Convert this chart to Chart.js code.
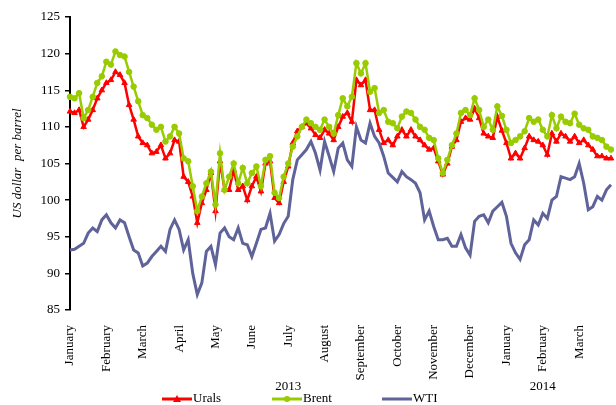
<!DOCTYPE html>
<html>
<head>
<meta charset="utf-8">
<script src="https://cdn.jsdelivr.net/npm/chart.js@4.4.1/dist/chart.umd.min.js"></script>
<style>
  html, body { margin: 0; padding: 0; background: #fff; }
</style>
</head>
<body>
<canvas id="oilChart" width="616" height="405"></canvas>
<script>
// luni pe axa x (ian 2013 - mar 2014), 8 puncte pe luna
const monthNames = ['January', 'February', 'March', 'April', 'May', 'June', 'July', 'August',
    'September', 'October', 'November', 'December', 'January', 'February', 'March'];
const years = ['2013', '2014'];
const monthsPerYear = [12, 3];
const pointsPerMonth = 8;

const urals = [
    112.1, 111.9, 112.3, 110.0, 111.0, 112.3, 113.9, 115.0,
    116.0, 116.4, 117.5, 117.1, 116.0, 113.0, 111.0, 108.7,
    107.8, 107.5, 106.4, 106.6, 107.5, 105.7, 106.4, 108.2,
    108.0, 103.2, 102.5, 100.5, 96.9, 99.6, 101.4, 103.7,
    98.5, 105.3, 101.4, 101.4, 104.1, 101.4, 101.9, 100.0,
    101.9, 103.2, 101.2, 105.0, 105.3, 100.3, 99.6, 102.5,
    104.6, 107.8, 109.4, 110.0, 110.5, 109.8, 108.9, 108.5,
    109.6, 109.1, 108.2, 110.0, 111.4, 111.9, 110.7, 116.4,
    115.7, 116.4, 112.3, 112.3, 109.6, 107.8, 108.2, 107.5,
    108.7, 109.6, 108.7, 109.6, 108.7, 108.2, 107.5, 106.9,
    107.1, 105.3, 103.5, 105.0, 107.3, 108.2, 110.7, 111.2,
    111.0, 112.5, 111.2, 109.1, 108.7, 108.5, 111.4, 109.5,
    107.8, 105.7, 106.4, 105.7, 107.1, 108.7, 108.2, 108.0,
    107.5, 106.2, 109.1, 108.0, 109.1, 108.7, 108.0, 108.7,
    107.8, 108.2, 107.5, 106.9, 106.0, 106.0, 105.7, 105.7
];
const brent = [
    114.1, 113.9, 114.6, 111.2, 112.3, 114.1, 116.0, 116.9,
    118.9, 118.5, 120.3, 119.8, 119.6, 117.5, 115.5, 113.5,
    111.6, 111.2, 110.3, 109.6, 110.0, 108.0, 108.7, 110.0,
    109.1, 105.7, 105.3, 101.9, 98.5, 100.5, 102.3, 103.9,
    99.4, 106.4, 101.4, 103.2, 105.0, 102.3, 104.4, 102.3,
    103.7, 104.6, 101.9, 105.5, 106.0, 101.0, 100.3, 103.2,
    105.0, 107.3, 108.7, 110.0, 111.0, 110.5, 110.0, 109.6,
    111.0, 110.0, 109.1, 111.6, 113.9, 112.8, 114.1, 118.7,
    117.3, 118.7, 114.8, 115.3, 111.9, 112.3, 110.7, 110.5,
    109.8, 111.4, 112.1, 111.9, 111.0, 110.0, 109.6, 108.5,
    108.2, 105.7, 103.7, 105.5, 107.5, 109.1, 111.9, 112.3,
    111.6, 113.9, 112.3, 110.0, 111.0, 109.6, 112.8, 111.5,
    109.6, 107.8, 108.2, 108.7, 109.4, 111.2, 110.7, 111.0,
    109.6, 108.7, 111.6, 109.8, 111.4, 110.7, 110.5, 111.8,
    110.3, 109.8, 109.6, 108.7, 108.5, 108.2, 107.3, 106.9
];
const wti = [
    93.2, 93.3, 93.7, 94.1, 95.5, 96.2, 95.7, 97.3,
    98.0, 96.9, 96.2, 97.3, 96.9, 95.0, 93.2, 92.8,
    91.0, 91.4, 92.3, 93.0, 93.7, 93.0, 96.0, 97.3,
    96.0, 93.2, 94.6, 90.0, 87.1, 88.7, 93.0, 93.7,
    91.2, 95.5, 96.2, 95.0, 94.6, 96.2, 94.1, 93.9,
    92.3, 94.1, 96.0, 96.2, 98.2, 94.4, 95.3, 96.8,
    97.8, 102.8, 105.5, 106.2, 106.9, 108.0, 106.4, 104.1,
    108.0, 106.0, 103.9, 107.1, 107.8, 105.5, 104.6, 110.0,
    108.2, 107.8, 110.5, 108.7, 107.8, 106.0, 103.7, 103.1,
    102.5, 103.9, 103.2, 102.8, 102.3, 101.0, 97.3, 98.5,
    96.4, 94.6, 94.6, 94.8, 93.7, 93.7, 95.3, 93.5,
    92.5, 97.1, 97.8, 98.0, 96.9, 98.5, 99.1, 99.7,
    97.8, 94.1, 92.8, 91.9, 93.9, 94.6, 97.3, 96.6,
    98.2, 97.5, 100.0, 100.5, 103.2, 103.0, 102.8, 103.2,
    105.0, 102.3, 98.7, 99.1, 100.5, 100.0, 101.4, 102.1
];

const labels = urals.map((_, i) => i % pointsPerMonth === 0 ? monthNames[i / pointsPerMonth] : '');

const serif = '"Liberation Serif", "Times New Roman", serif';

// anii sub luni + legenda cu linie si marker
const extraLabels = {
    id: 'extraLabels',
    afterDraw(chart) {
        const c = chart.ctx;
        const xs = chart.scales.x;
        c.save();
        c.fillStyle = '#000';
        c.font = '13px ' + serif;
        c.textAlign = 'center';
        c.textBaseline = 'middle';
        let start = 0;
        years.forEach((y, i) => {
            const mid = start + Math.floor(monthsPerYear[i] / 2);
            c.fillText(y, xs.getPixelForValue(mid * pointsPerMonth), 387);
            start += monthsPerYear[i];
        });

        let x = 162;
        const ly = 399;
        chart.data.datasets.forEach(ds => {
            c.strokeStyle = ds.borderColor;
            c.lineWidth = 3;
            c.beginPath();
            c.moveTo(x, ly);
            c.lineTo(x + 30, ly);
            c.stroke();
            c.fillStyle = ds.borderColor;
            if (ds.pointStyle === 'triangle') {
                c.beginPath();
                c.moveTo(x + 15, ly - 4);
                c.lineTo(x + 19, ly + 3);
                c.lineTo(x + 11, ly + 3);
                c.closePath();
                c.fill();
            } else if (ds.pointRadius > 0) {
                c.beginPath();
                c.arc(x + 15, ly, 3, 0, Math.PI * 2);
                c.fill();
            }
            c.fillStyle = '#000';
            c.textAlign = 'left';
            c.fillText(ds.label, x + 31, ly);
            x += 110;
        });
        c.restore();
    }
};

new Chart(document.getElementById('oilChart'), {
    type: 'line',
    data: {
        labels: labels,
        datasets: [{
            label: 'Urals',
            data: urals,
            borderColor: '#ff0000',
            backgroundColor: '#ff0000',
            borderWidth: 2.5,
            pointStyle: 'triangle',
            pointRadius: 3.2,
            pointBorderWidth: 1,
            pointBackgroundColor: '#ff0000',
            order: 3
        }, {
            label: 'Brent',
            data: brent,
            borderColor: '#99cc00',
            backgroundColor: '#99cc00',
            borderWidth: 2.5,
            pointStyle: 'circle',
            pointRadius: 2.8,
            pointBorderWidth: 1,
            pointBackgroundColor: '#99cc00',
            order: 2
        }, {
            label: 'WTI',
            data: wti,
            borderColor: '#5f6399',
            borderWidth: 3,
            pointRadius: 0,
            order: 1
        }]
    },
    options: {
        responsive: false,
        animation: false,
        devicePixelRatio: 1,
        layout: { padding: { top: 17, left: 0, right: 0, bottom: 0 } },
        elements: { line: { tension: 0 } },
        plugins: {
            legend: { display: false },
            tooltip: { enabled: false }
        },
        scales: {
            x: {
                grid: { display: false },
                border: { display: false },
                ticks: {
                    autoSkip: false,
                    maxRotation: 90,
                    minRotation: 90,
                    padding: 7,
                    color: '#000',
                    font: { family: serif, size: 13 }
                },
                afterFit: s => {
                    s.height = 95;
                    s.paddingLeft = 0;
                    s.paddingRight = 0;
                }
            },
            y: {
                min: 85,
                max: 125,
                grid: { drawOnChartArea: false, drawTicks: true, tickLength: 5, color: '#000', lineWidth: 1.5 },
                border: { display: true, color: '#000', width: 2 },
                ticks: {
                    stepSize: 5,
                    padding: 5,
                    color: '#000',
                    font: { family: serif, size: 13 }
                },
                title: {
                    display: true,
                    text: 'US dollar  per barrel',
                    color: '#000',
                    padding: { top: 10, bottom: 0 },
                    font: { family: serif, size: 13, style: 'italic' }
                },
                afterFit: s => { s.width = 70; }
            }
        }
    },
    plugins: [extraLabels]
});
</script>
</body>
</html>
